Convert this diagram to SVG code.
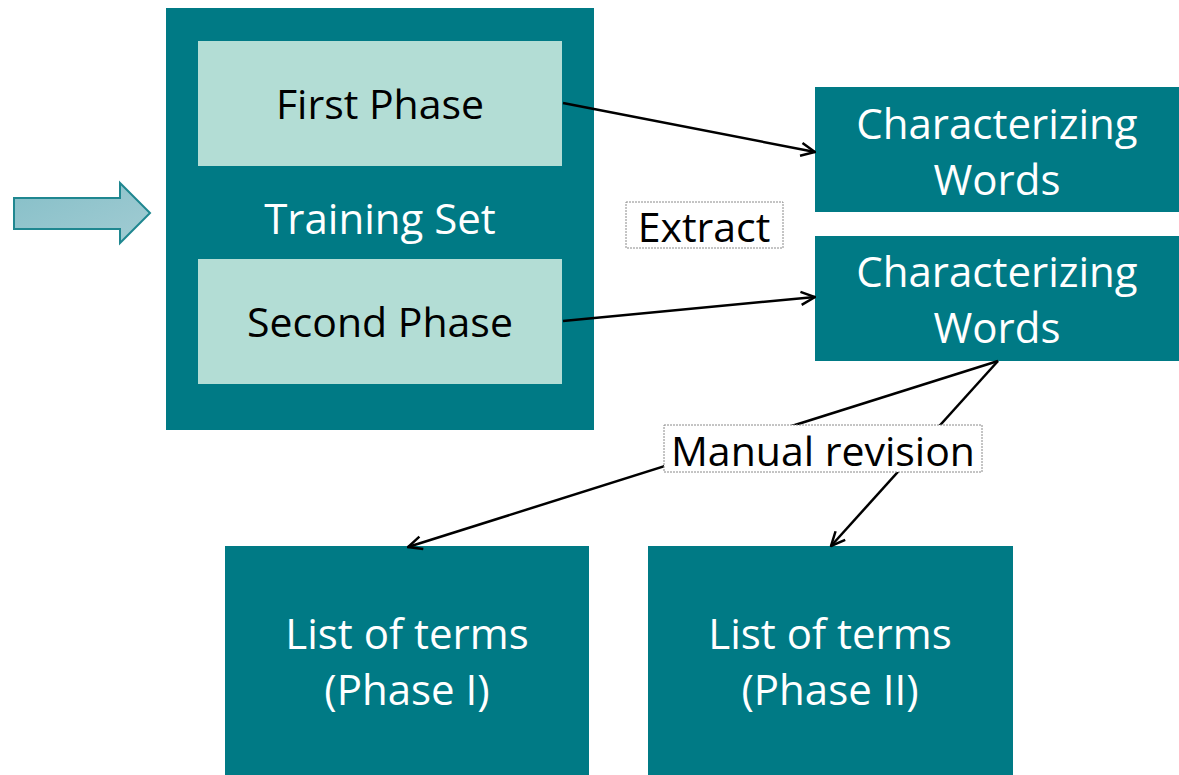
<svg xmlns="http://www.w3.org/2000/svg" width="1179" height="775" viewBox="0 0 1179 775">
  <defs>
    <style>
      .teal { fill: #007a85; }
      .inner { fill: #b3ddd5; }
      .wt { fill: #ffffff; font-family: "Open Sans", "Noto Sans", sans-serif; font-size: 42px; text-anchor: middle; }
      .bt { fill: #000000; font-family: "Open Sans", "Noto Sans", sans-serif; font-size: 41px; text-anchor: middle; }
      .lbl { fill: #ffffff; stroke: #8a8a8a; stroke-width: 1; stroke-dasharray: 2 1; }
      .conn { stroke: #000000; stroke-width: 2.5; fill: none; marker-end: url(#open); }
    </style>
    <marker id="open" viewBox="0 0 16 16" refX="15" refY="8" markerWidth="16" markerHeight="16" markerUnits="userSpaceOnUse" orient="auto">
      <path d="M1,1.5 L15,8 L1,14.5" fill="none" stroke="#000" stroke-width="2.5"/>
    </marker>
    <linearGradient id="arrowFill" x1="0" y1="0" x2="1" y2="1">
      <stop offset="0" stop-color="#86bfc8"/>
      <stop offset="1" stop-color="#a2ccd3"/>
    </linearGradient>
  </defs>

  <!-- input arrow -->
  <g id="input-arrow">
    <path d="M14,198 L120,198 L120,183 L150,213 L120,243 L120,229 L14,229 Z" fill="url(#arrowFill)" stroke="#1f8790" stroke-width="2"/>
  </g>

  <!-- training set container -->
  <g id="training-set">
    <rect class="teal" x="166" y="8" width="428" height="422"/>
    <text class="wt" x="380" y="234">Training Set</text>
  </g>
  <g id="first-phase">
    <rect class="inner" x="198" y="41" width="364" height="125"/>
    <text class="bt" x="380" y="119">First Phase</text>
  </g>
  <g id="second-phase">
    <rect class="inner" x="198" y="259" width="364" height="125"/>
    <text class="bt" x="380" y="337">Second Phase</text>
  </g>

  <g id="words-1">
    <rect class="teal" x="815" y="87" width="364" height="125"/>
    <text class="wt" x="997" y="139">Characterizing</text>
    <text class="wt" x="997" y="195">Words</text>
  </g>
  <g id="words-2">
    <rect class="teal" x="815" y="236" width="364" height="125"/>
    <text class="wt" x="997" y="287">Characterizing</text>
    <text class="wt" x="997" y="343">Words</text>
  </g>

  <g id="terms-1">
    <rect class="teal" x="225" y="546" width="364" height="229"/>
    <text class="wt" x="407" y="649">List of terms</text>
    <text class="wt" x="407" y="705">(Phase I)</text>
  </g>
  <g id="terms-2">
    <rect class="teal" x="648" y="546" width="365" height="229"/>
    <text class="wt" x="830" y="649">List of terms</text>
    <text class="wt" x="830" y="705">(Phase II)</text>
  </g>

  <!-- connectors -->
  <g id="connectors">
    <line class="conn" x1="563" y1="103" x2="815" y2="152"/>
    <line class="conn" x1="563" y1="321" x2="815" y2="297"/>
    <line class="conn" x1="998" y1="361" x2="408" y2="547"/>
    <line class="conn" x1="998" y1="361" x2="831" y2="546"/>
  </g>

  <!-- edge labels -->
  <g id="label-extract">
    <rect class="lbl" x="626" y="202" width="157" height="46"/>
    <text class="bt" x="704" y="242">Extract</text>
  </g>
  <g id="label-manual">
    <rect class="lbl" x="664" y="425" width="318" height="47"/>
    <text class="bt" x="823" y="466">Manual revision</text>
  </g>
</svg>
